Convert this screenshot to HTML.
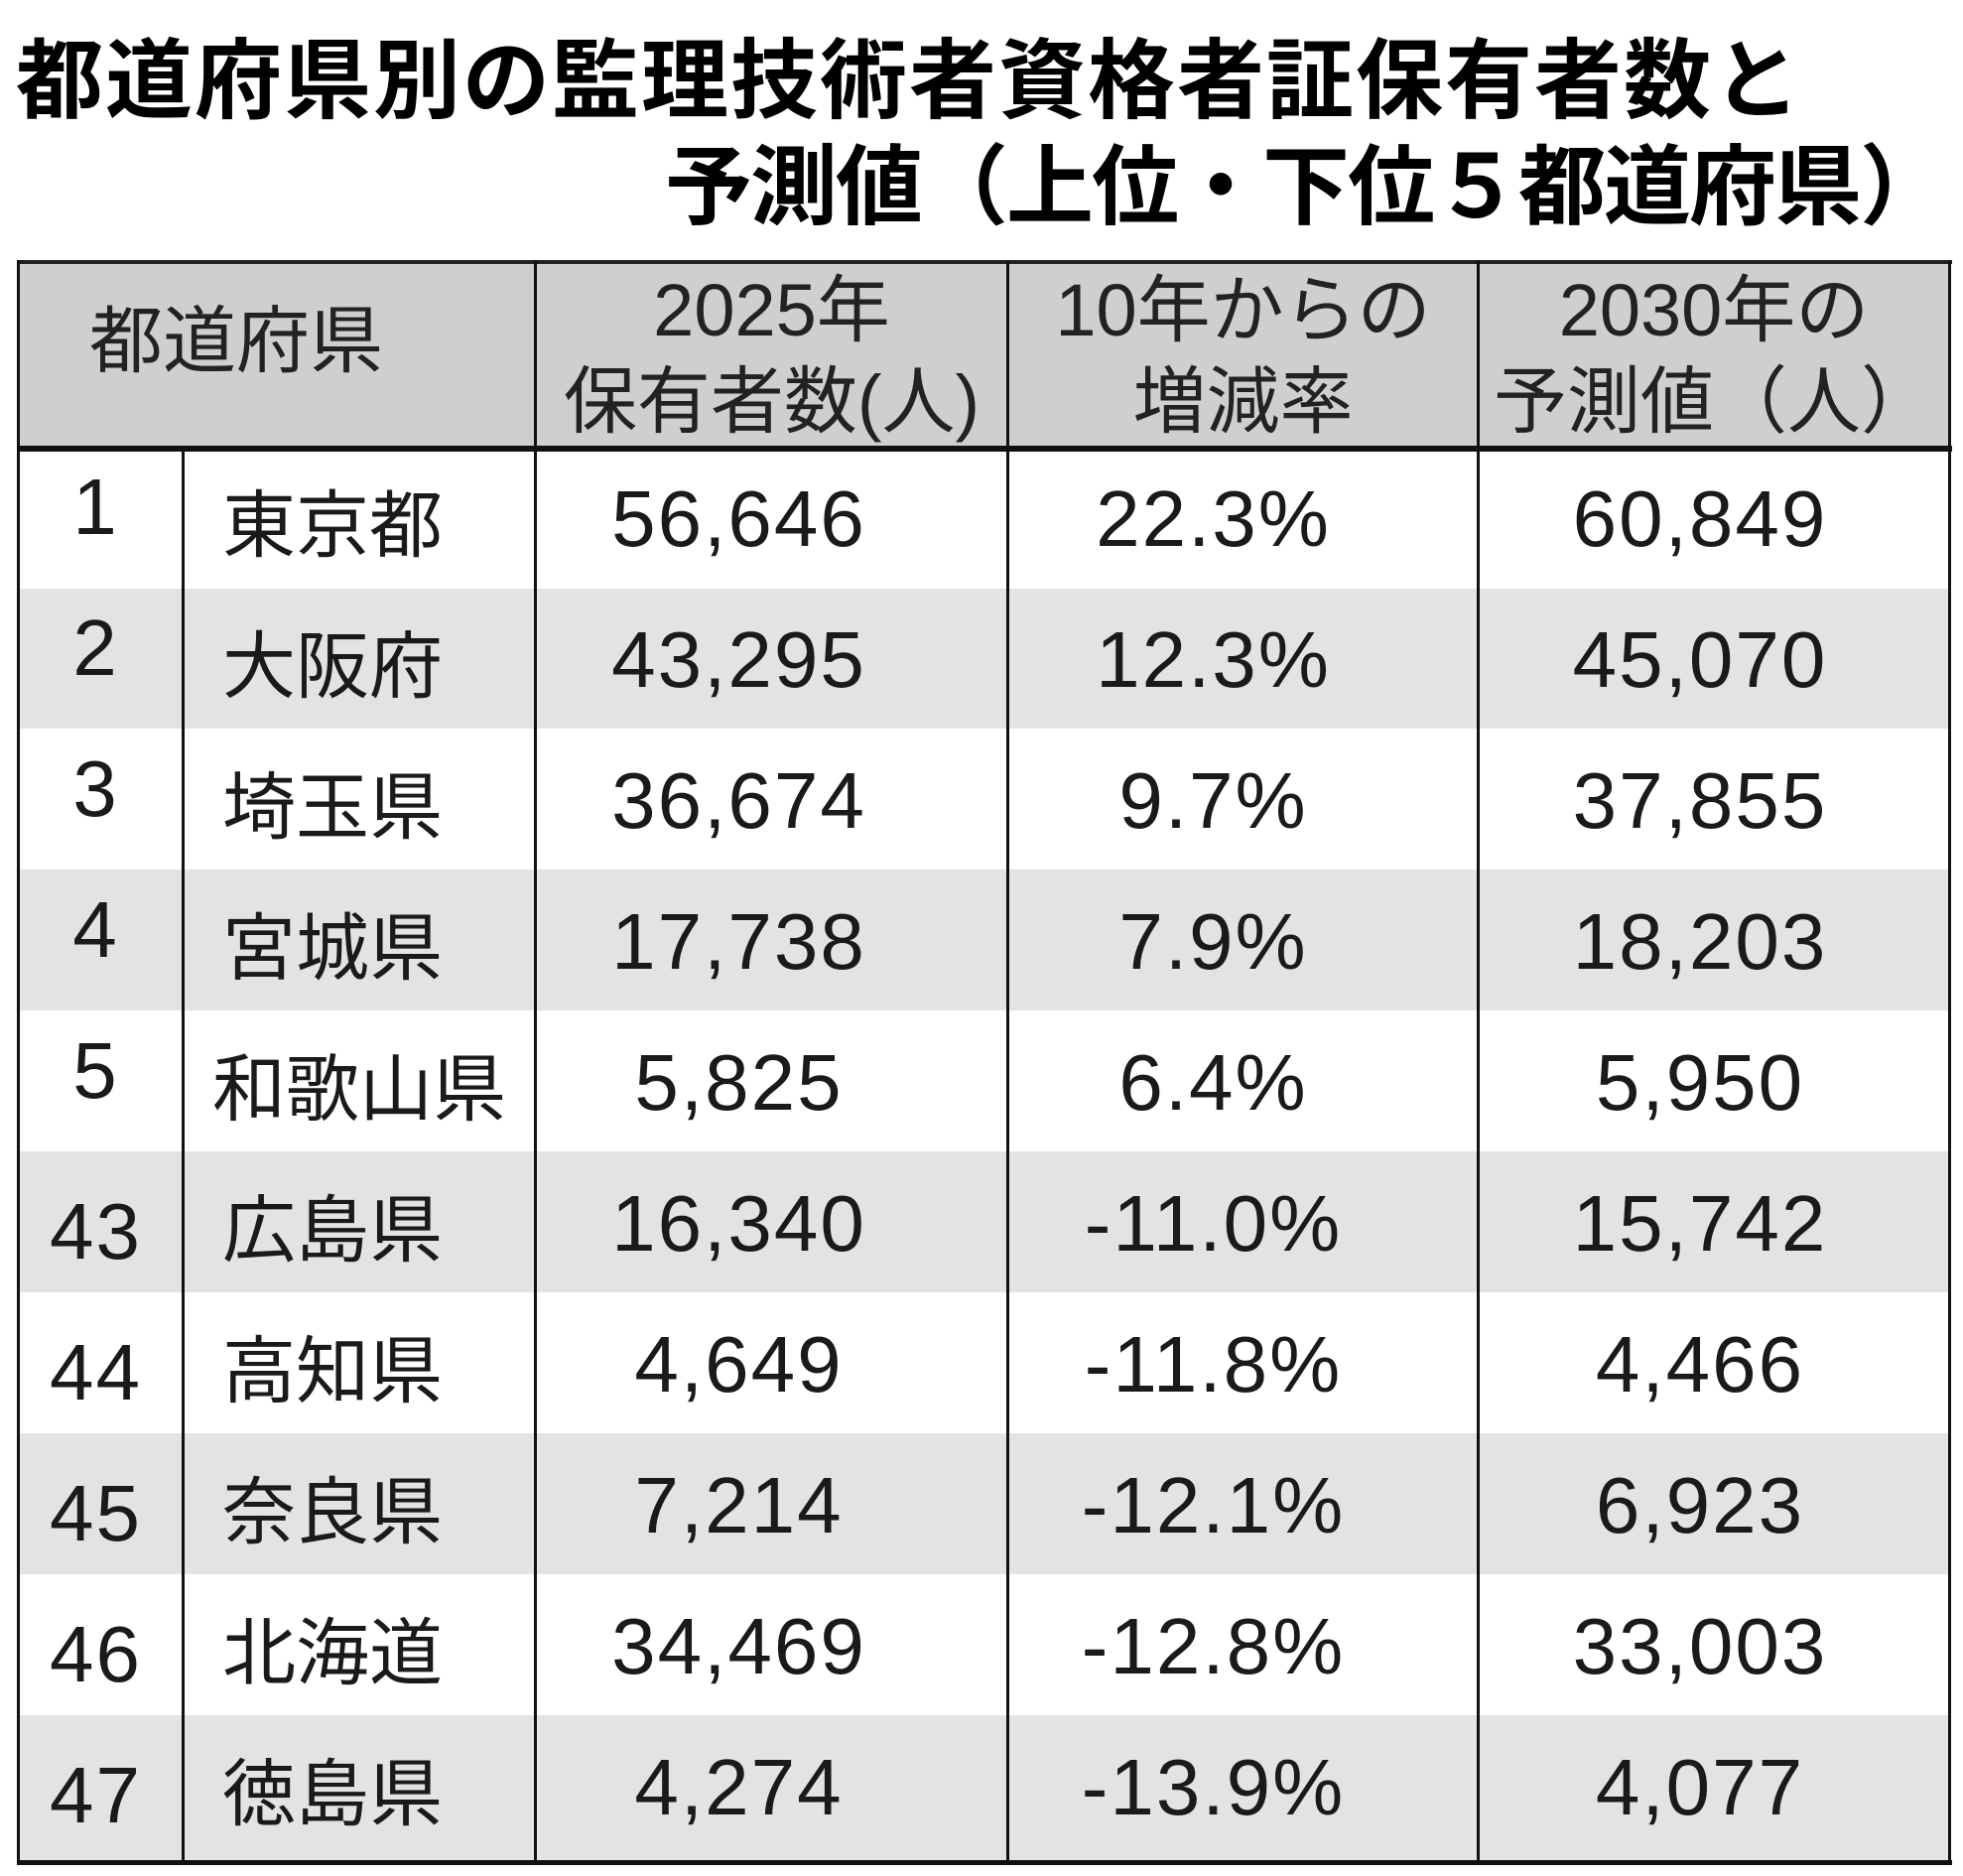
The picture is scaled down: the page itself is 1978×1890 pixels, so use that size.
<!DOCTYPE html>
<html><head><meta charset="utf-8"><style>
body{margin:0;width:1978px;height:1890px;background:#fff;position:relative;overflow:hidden;font-family:"Liberation Sans","Noto Sans CJK JP",sans-serif;color:#1a1a1a}
.t{position:absolute;font-weight:bold;font-size:88px;line-height:88px;white-space:nowrap;color:#000;font-family:"Liberation Sans","Noto Sans CJK JP",sans-serif}
.a{position:absolute;}
.c{position:absolute;display:flex;align-items:center;justify-content:center;white-space:nowrap}
.n{font-size:80px;letter-spacing:2px}
.p{font-size:74px}
.h{font-size:74px;line-height:92px;text-align:center;color:#222}
</style></head><body>
<div class="t" style="left:16px;top:38px;letter-spacing:2px">都道府県別の監理技術者資格者証保有者数と</div>
<div class="t" style="right:18px;top:145px;letter-spacing:-2px">予測値（上位・下位５都道府県）</div>

<div class="a" style="left:19px;top:264px;width:1946px;height:188px;background:#cfcfcf"></div>
<div class="a" style="left:19px;top:593px;width:1946px;height:141px;background:#e3e3e3"></div>
<div class="a" style="left:19px;top:876px;width:1946px;height:142px;background:#e3e3e3"></div>
<div class="a" style="left:19px;top:1160px;width:1946px;height:142px;background:#e3e3e3"></div>
<div class="a" style="left:19px;top:1444px;width:1946px;height:142px;background:#e3e3e3"></div>
<div class="a" style="left:19px;top:1728px;width:1946px;height:148px;background:#e3e3e3"></div>

<div class="a" style="left:17px;top:262px;width:1950px;height:4px;background:#222"></div>
<div class="a" style="left:17px;top:449px;width:1950px;height:6px;background:#111"></div>
<div class="a" style="left:17px;top:1874px;width:1950px;height:5px;background:#111"></div>
<div class="a" style="left:17px;top:262px;width:3px;height:1617px;background:#111"></div>
<div class="a" style="left:1963px;top:262px;width:3px;height:1617px;background:#111"></div>
<div class="a" style="left:183px;top:452px;width:3px;height:1424px;background:#111"></div>
<div class="a" style="left:538px;top:262px;width:3px;height:1614px;background:#111"></div>
<div class="a" style="left:1014px;top:262px;width:3px;height:1614px;background:#111"></div>
<div class="a" style="left:1488px;top:262px;width:3px;height:1614px;background:#111"></div>

<div class="c h" style="left:20px;top:264px;width:480px;height:160px;justify-content:flex-start;padding-left:70px">都道府県</div>
<div class="c h" style="left:541px;top:266px;width:473px;height:186px">2025年<br>保有者数(人)</div>
<div class="c h" style="left:1017px;top:266px;width:471px;height:186px">10年からの<br>増減率</div>
<div class="c h" style="left:1491px;top:266px;width:472px;height:186px">2030年の<br>予測値（人）</div>

<div id="rows"></div>
<script>
var d=[["1","東京都","56,646","22.3%","60,849"],["2","大阪府","43,295","12.3%","45,070"],["3","埼玉県","36,674","9.7%","37,855"],["4","宮城県","17,738","7.9%","18,203"],["5","和歌山県","5,825","6.4%","5,950"],["43","広島県","16,340","-11.0%","15,742"],["44","高知県","4,649","-11.8%","4,466"],["45","奈良県","7,214","-12.1%","6,923"],["46","北海道","34,469","-12.8%","33,003"],["47","徳島県","4,274","-13.9%","4,077"]];
var h="";
for(var i=0;i<10;i++){var y=452+i*142,r=d[i];var ry=i<5?-12:8;
h+='<div class="c n" style="left:15px;top:'+(y+ry)+'px;width:163px;height:142px">'+r[0]+'</div>';
h+='<div class="c p" style="left:'+(r[1].length>3?186:196)+'px;top:'+y+'px;width:'+(r[1].length>3?352:320)+'px;height:142px;'+(r[1].length>3?'':'justify-content:flex-start;padding-left:28px;')+'">'+r[1]+'</div>';
h+='<div class="c n" style="left:508px;top:'+y+'px;width:473px;height:142px">'+r[2]+'</div>';
h+='<div class="c n" style="left:987px;top:'+y+'px;width:471px;height:142px">'+r[3]+'</div>';
h+='<div class="c n" style="left:1477px;top:'+y+'px;width:472px;height:142px">'+r[4]+'</div>';}
document.getElementById("rows").innerHTML=h;
</script>
</body></html>
